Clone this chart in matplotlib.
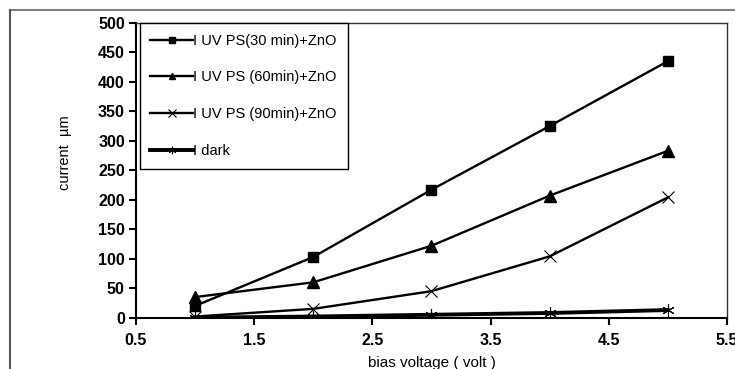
import matplotlib.pyplot as plt
from matplotlib.lines import Line2D

# --- data ---
voltage = [1, 2, 3, 4, 5]
i_uv_30 = [20, 103, 217, 325, 435]
i_uv_60 = [35, 60, 122, 207, 283]
i_uv_90 = [2, 15, 45, 104, 204]
i_dark = [0, 2, 5, 8, 13]

labels = ['I UV PS(30 min)+ZnO', 'I UV PS (60min)+ZnO',
          'I UV PS (90min)+ZnO', 'I dark']

x_ticks = [0.5, 1.5, 2.5, 3.5, 4.5, 5.5]
y_ticks = list(range(0, 501, 50))

plt.rcParams['font.family'] = ['Liberation Sans', 'DejaVu Sans']

fig = plt.figure(figsize=(7.35, 3.69), dpi=100)
ax = fig.add_axes([0.185, 0.139, 0.804, 0.799])

ax.plot(voltage, i_uv_30, color='black', lw=1.7, marker='s', ms=7.5, label=labels[0])
ax.plot(voltage, i_uv_60, color='black', lw=1.7, marker='^', ms=8, label=labels[1])
ax.plot(voltage, i_uv_90, color='black', lw=1.7, marker='x', ms=9, mew=0.8,
        label=labels[2])
ax.plot(voltage, i_dark, color='black', lw=2.8, marker=(6, 2, 0), ms=9, mew=0.8,
        label=labels[3])

ax.set_xlim(0.5, 5.5)
ax.set_ylim(0, 500)
ax.set_xticks(x_ticks)
ax.set_xticklabels([str(t) for t in x_ticks])
ax.set_yticks(y_ticks)
ax.tick_params(direction='out', length=5, width=1.5, labelsize=11.5, pad=3)
ax.tick_params(axis='x', pad=6)
for lab in ax.get_xticklabels() + ax.get_yticklabels():
    lab.set_fontweight('bold')

for side in ['left', 'bottom']:
    ax.spines[side].set_linewidth(1.5)
for side in ['top', 'right']:
    ax.spines[side].set_linewidth(1.0)
    ax.spines[side].set_color('#333333')

ax.set_xlabel('bias voltage ( volt )', fontsize=11, labelpad=6)
ax.set_ylabel('current  µm', fontsize=10.5)
ax.yaxis.set_label_coords(-0.108, 0.56)

leg = ax.legend(loc='upper left', bbox_to_anchor=(0.006, 1.0), fancybox=False,
                edgecolor='black', framealpha=1, fontsize=10.5, handlelength=2.9,
                handletextpad=0.05, labelspacing=1.55, borderpad=0.75,
                markerscale=0.6, borderaxespad=0)
leg.get_frame().set_linewidth(1.0)

# outer chart frame (gray lines at top and left)
fig.add_artist(Line2D([0.014, 1.0], [0.972, 0.972], color='#808080', lw=1.5,
                      transform=fig.transFigure))
fig.add_artist(Line2D([0.014, 0.014], [0.0, 0.972], color='#555555', lw=1.5,
                      transform=fig.transFigure))

fig.savefig('out.png', dpi=100)
